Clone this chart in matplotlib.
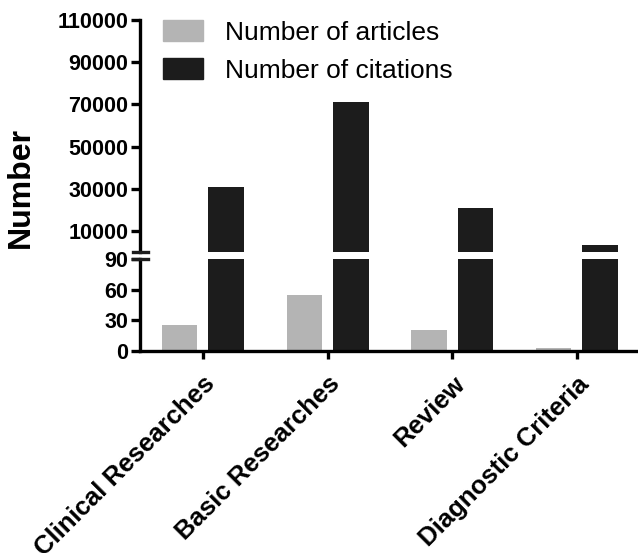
import numpy as np
import matplotlib
matplotlib.use("Agg")
import matplotlib.pyplot as plt
from matplotlib.patches import Patch

plt.rcParams["font.family"] = ["Liberation Sans", "DejaVu Sans"]

categories = ["Clinical Researches", "Basic Researches", "Review", "Diagnostic Criteria"]
articles = [25, 55, 21, 3]
citations = [31000, 71000, 21000, 3500]

low_ticks = [0, 30, 60, 90]
high_ticks = [10000, 30000, 50000, 70000, 90000, 110000]

gray = "#b4b4b4"
dark = "#1c1c1c"
lw = 2.4

fig = plt.figure(figsize=(6.38, 5.53), dpi=100)
W, H = 638, 553


def px_axes(left, top, right, bottom):
    return fig.add_axes([left / W, 1 - bottom / H, (right - left) / W, (bottom - top) / H])


ax_lo = px_axes(140, 259, 638, 351)
ax_hi = px_axes(140, 20, 638, 252)

x = np.arange(len(categories))
bw = 0.285
off = 0.187

ax_lo.bar(x - off, articles, bw, color=gray, zorder=2)
ax_lo.bar(x + off, citations, bw, color=dark, zorder=2)
ax_hi.bar(x + off, citations, bw, color=dark, zorder=2)

for ax in (ax_lo, ax_hi):
    ax.set_xlim(-0.505, 3.49)
    ax.spines["top"].set_visible(False)
    ax.spines["right"].set_visible(False)
    ax.spines["left"].set_linewidth(lw)
    ax.spines["bottom"].set_linewidth(lw)
    ax.tick_params(axis="y", width=lw, length=6.5, pad=2)

ax_lo.set_ylim(0, 90)
ax_lo.set_yticks(low_ticks)
ax_lo.set_yticklabels([str(v) for v in low_ticks], fontweight="bold", fontsize=15.5)
ax_lo.set_xticks(x)
ax_lo.set_xticklabels(categories, rotation=45, ha="right", rotation_mode="anchor",
                      fontweight="bold", fontsize=18.5)
ax_lo.tick_params(axis="x", width=lw, length=6, pad=9)

ax_hi.set_ylim(0, 110000)
ax_hi.set_yticks(high_ticks)
ax_hi.set_yticklabels([str(v) for v in high_ticks], fontweight="bold", fontsize=15.5)
ax_hi.spines["bottom"].set_visible(False)
ax_hi.set_xticks([])

# break marks on the y axis
kw = dict(color=dark, lw=lw, clip_on=False, transform=fig.transFigure)
for yp in (252, 259):
    fig.add_artist(plt.Line2D([133 / W, 148 / W], [1 - yp / H, 1 - yp / H], **kw))

fig.text(21 / W, 1 - 187 / H, "Number", rotation=90, ha="center", va="center",
         fontsize=23, fontweight="bold")

handles = [Patch(color=gray, label="Number of articles"),
           Patch(color=dark, label="Number of citations")]
ax_hi.legend(handles=handles, loc="upper left", bbox_to_anchor=(0.046, 1.0),
             frameon=False, fontsize=19, handlelength=1.52, handleheight=0.83,
             labelspacing=0.52, borderpad=0, borderaxespad=0, handletextpad=0.83)

fig.savefig("out.png", dpi=100)
